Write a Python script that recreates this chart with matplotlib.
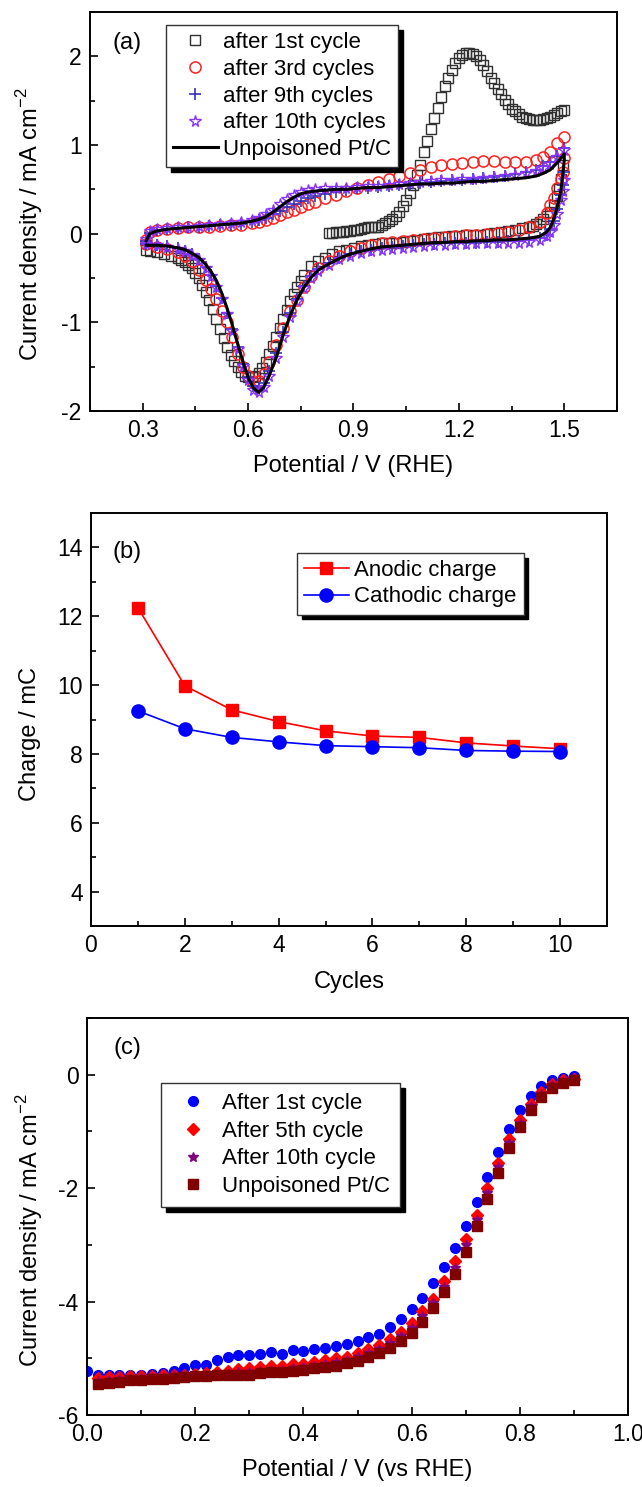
import numpy as np
import matplotlib
matplotlib.use("Agg")
import matplotlib.pyplot as plt
from matplotlib.ticker import MultipleLocator, FormatStrFormatter

plt.rcParams["font.family"] = ["Liberation Sans", "DejaVu Sans"]
plt.rcParams["axes.unicode_minus"] = False

# ==============================
# (a) CO-stripping CVs
# ==============================
# anodic sweep potentials (V)
E_up = [0.31, 0.32, 0.34, 0.37, 0.40, 0.43, 0.46, 0.49, 0.52, 0.55, 0.58, 0.61, 0.63,
        0.65, 0.67, 0.69, 0.71, 0.73, 0.75, 0.77, 0.79, 0.82, 0.85, 0.88, 0.91, 0.94,
        0.97, 1.00, 1.03, 1.06, 1.09, 1.12, 1.15, 1.18, 1.21, 1.24, 1.27, 1.30, 1.33,
        1.36, 1.39, 1.42, 1.44, 1.46, 1.48, 1.50]
# cathodic sweep potentials (V)
E_dn = [1.50, 1.495, 1.49, 1.48, 1.47, 1.46, 1.45, 1.43, 1.40, 1.37, 1.34, 1.31, 1.28,
        1.25, 1.22, 1.19, 1.16, 1.13, 1.10, 1.07, 1.04, 1.01, 0.98, 0.95, 0.92, 0.89,
        0.86, 0.83, 0.80, 0.78, 0.76, 0.74, 0.72, 0.70, 0.68, 0.66, 0.645, 0.63, 0.615,
        0.60, 0.585, 0.57, 0.555, 0.54, 0.525, 0.51, 0.495, 0.48, 0.46, 0.44, 0.42,
        0.40, 0.37, 0.34, 0.31]

# Unpoisoned Pt/C (line)
ref_up = [-0.08, 0.00, 0.03, 0.05, 0.06, 0.07, 0.08, 0.09, 0.10, 0.11, 0.12, 0.14, 0.16,
          0.19, 0.24, 0.30, 0.36, 0.41, 0.45, 0.47, 0.48, 0.49, 0.50, 0.50, 0.51, 0.52,
          0.52, 0.53, 0.54, 0.55, 0.56, 0.56, 0.57, 0.57, 0.58, 0.59, 0.59, 0.60, 0.61,
          0.62, 0.63, 0.65, 0.68, 0.72, 0.80, 0.90]
ref_dn = [0.83, 0.65, 0.48, 0.30, 0.16, 0.07, 0.02, -0.03, -0.05, -0.06, -0.07, -0.07,
          -0.08, -0.08, -0.09, -0.09, -0.10, -0.10, -0.11, -0.12, -0.13, -0.14, -0.15,
          -0.17, -0.20, -0.23, -0.28, -0.34, -0.41, -0.49, -0.60, -0.74, -0.92, -1.14,
          -1.40, -1.60, -1.73, -1.79, -1.74, -1.62, -1.44, -1.24, -1.03, -0.84, -0.67,
          -0.53, -0.43, -0.35, -0.27, -0.22, -0.18, -0.16, -0.14, -0.13, -0.13]

# after 3rd cycles
c3_up = [-0.07, 0.02, 0.04, 0.05, 0.06, 0.07, 0.07, 0.08, 0.09, 0.10, 0.10, 0.12, 0.13,
         0.15, 0.18, 0.21, 0.24, 0.27, 0.30, 0.33, 0.36, 0.40, 0.44, 0.48, 0.51, 0.55,
         0.58, 0.62, 0.65, 0.68, 0.72, 0.75, 0.77, 0.79, 0.80, 0.81, 0.82, 0.82, 0.81,
         0.81, 0.81, 0.83, 0.87, 0.92, 1.02, 1.09]
c3_dn = [0.85, 0.70, 0.62, 0.52, 0.40, 0.32, 0.23, 0.13, 0.07, 0.04, 0.02, 0.01, 0.00,
         -0.01, -0.02, -0.03, -0.04, -0.05, -0.06, -0.07, -0.08, -0.09, -0.11, -0.13,
         -0.16, -0.20, -0.25, -0.31, -0.39, -0.48, -0.60, -0.75, -0.87, -1.06, -1.26,
         -1.45, -1.58, -1.66, -1.67, -1.61, -1.50, -1.36, -1.17, -1.00, -0.87, -0.74,
         -0.62, -0.52, -0.41, -0.31, -0.25, -0.21, -0.17, -0.15, -0.12]

# after 9th cycles
c9_up = [-0.08, 0.01, 0.04, 0.05, 0.06, 0.07, 0.08, 0.09, 0.10, 0.10, 0.11, 0.13, 0.15,
         0.18, 0.22, 0.26, 0.30, 0.34, 0.37, 0.40, 0.42, 0.45, 0.47, 0.49, 0.51, 0.52,
         0.53, 0.54, 0.55, 0.56, 0.57, 0.58, 0.59, 0.60, 0.61, 0.62, 0.63, 0.64, 0.65,
         0.67, 0.69, 0.72, 0.76, 0.81, 0.88, 0.97]
c9_dn = [0.70, 0.55, 0.44, 0.28, 0.14, 0.05, -0.01, -0.05, -0.07, -0.08, -0.08, -0.09,
         -0.09, -0.10, -0.10, -0.11, -0.11, -0.12, -0.12, -0.13, -0.14, -0.15, -0.16,
         -0.18, -0.20, -0.23, -0.27, -0.33, -0.40, -0.48, -0.59, -0.74, -0.90, -1.11,
         -1.35, -1.55, -1.68, -1.74, -1.72, -1.62, -1.47, -1.28, -1.08, -0.90, -0.73,
         -0.59, -0.47, -0.38, -0.29, -0.23, -0.19, -0.16, -0.14, -0.13, -0.12]

# after 10th cycles
c10_up = [-0.06, 0.03, 0.05, 0.06, 0.07, 0.08, 0.09, 0.10, 0.11, 0.12, 0.13, 0.15, 0.18,
          0.22, 0.27, 0.33, 0.39, 0.44, 0.47, 0.49, 0.50, 0.51, 0.52, 0.52, 0.53, 0.54,
          0.54, 0.55, 0.56, 0.57, 0.58, 0.59, 0.60, 0.61, 0.62, 0.62, 0.63, 0.64, 0.65,
          0.66, 0.68, 0.71, 0.74, 0.79, 0.86, 0.94]
c10_dn = [0.60, 0.48, 0.38, 0.22, 0.10, 0.02, -0.03, -0.07, -0.09, -0.10, -0.10, -0.11,
          -0.11, -0.11, -0.12, -0.12, -0.13, -0.13, -0.14, -0.15, -0.16, -0.17, -0.18,
          -0.20, -0.22, -0.25, -0.29, -0.35, -0.42, -0.50, -0.61, -0.76, -0.94, -1.16,
          -1.40, -1.60, -1.73, -1.79, -1.76, -1.65, -1.49, -1.30, -1.10, -0.91, -0.74,
          -0.60, -0.48, -0.39, -0.30, -0.24, -0.20, -0.17, -0.15, -0.13, -0.12]

# after 1st cycle (CO stripping)
E1_up = [0.83, 0.84, 0.85, 0.86, 0.87, 0.88, 0.89, 0.90, 0.91, 0.92, 0.93, 0.94, 0.95,
         0.96, 0.97, 0.98, 0.99, 1.00, 1.01, 1.02, 1.03, 1.04, 1.05, 1.06, 1.07, 1.08,
         1.09, 1.10, 1.11, 1.12, 1.13, 1.14, 1.15, 1.16, 1.17, 1.18, 1.19, 1.20, 1.21,
         1.22, 1.23, 1.24, 1.25, 1.26, 1.27, 1.28, 1.29, 1.30, 1.31, 1.32, 1.33, 1.34,
         1.35, 1.36, 1.37, 1.38, 1.39, 1.40, 1.41, 1.42, 1.43, 1.44, 1.45, 1.46, 1.47,
         1.48, 1.49, 1.50]
c1_up = [0.01, 0.01, 0.02, 0.02, 0.02, 0.03, 0.03, 0.04, 0.04, 0.05, 0.06, 0.07, 0.07,
         0.08, 0.08, 0.10, 0.12, 0.14, 0.17, 0.20, 0.25, 0.31, 0.38, 0.46, 0.55, 0.66,
         0.78, 0.92, 1.05, 1.18, 1.30, 1.42, 1.54, 1.66, 1.76, 1.85, 1.93, 1.98, 2.02,
         2.04, 2.04, 2.03, 2.00, 1.96, 1.90, 1.83, 1.76, 1.70, 1.63, 1.57, 1.51, 1.46,
         1.41, 1.38, 1.35, 1.32, 1.30, 1.29, 1.28, 1.28, 1.28, 1.29, 1.30, 1.32, 1.34,
         1.36, 1.38, 1.40]
E1_dn = [1.495, 1.49, 1.485, 1.48, 1.47, 1.46, 1.45, 1.44, 1.43, 1.42, 1.41, 1.40, 1.38,
         1.36, 1.34, 1.32, 1.30, 1.28, 1.26, 1.24, 1.22, 1.20, 1.18, 1.16, 1.14, 1.12,
         1.10, 1.08, 1.06, 1.04, 1.02, 1.00, 0.98, 0.96, 0.94, 0.92, 0.90, 0.88, 0.86,
         0.84, 0.82, 0.80, 0.78, 0.76, 0.75, 0.74, 0.73, 0.72, 0.71, 0.70, 0.69, 0.68,
         0.67, 0.66, 0.65, 0.64, 0.63, 0.62, 0.61, 0.60, 0.59, 0.58, 0.57, 0.56, 0.55,
         0.54, 0.53, 0.52, 0.51, 0.50, 0.49, 0.48, 0.47, 0.46, 0.45, 0.44, 0.43, 0.42,
         0.41, 0.40, 0.38, 0.36, 0.34, 0.32, 0.31]
c1_dn = [0.78, 0.62, 0.50, 0.42, 0.32, 0.25, 0.20, 0.16, 0.13, 0.11, 0.09, 0.08, 0.06,
         0.04, 0.03, 0.02, 0.01, 0.00, -0.01, -0.01, -0.02, -0.03, -0.03, -0.04, -0.04,
         -0.05, -0.06, -0.07, -0.08, -0.09, -0.10, -0.10, -0.11, -0.12, -0.13, -0.14,
         -0.16, -0.18, -0.20, -0.23, -0.27, -0.31, -0.37, -0.47, -0.53, -0.60, -0.68,
         -0.76, -0.86, -0.96, -1.06, -1.16, -1.27, -1.36, -1.45, -1.52, -1.57, -1.60,
         -1.62, -1.62, -1.60, -1.56, -1.50, -1.44, -1.37, -1.28, -1.18, -1.07, -0.96,
         -0.85, -0.75, -0.66, -0.58, -0.50, -0.44, -0.39, -0.35, -0.32, -0.30, -0.28,
         -0.25, -0.23, -0.21, -0.19, -0.18]

# ==============================
# (b) charge vs cycles
# ==============================
cycles = [1, 2, 3, 4, 5, 6, 7, 8, 9, 10]
anodic = [12.25, 9.98, 9.28, 8.94, 8.67, 8.52, 8.48, 8.32, 8.23, 8.15]
cathodic = [9.25, 8.73, 8.48, 8.35, 8.24, 8.21, 8.18, 8.10, 8.08, 8.07]

# ==============================
# (c) ORR polarisation curves
# ==============================
orr_E = [0.00, 0.02, 0.04, 0.06, 0.08, 0.10, 0.12, 0.14, 0.16, 0.18, 0.20, 0.22, 0.24,
         0.26, 0.28, 0.30, 0.32, 0.34, 0.36, 0.38, 0.40, 0.42, 0.44, 0.46, 0.48, 0.50,
         0.52, 0.54, 0.56, 0.58, 0.60, 0.62, 0.64, 0.66, 0.68, 0.70, 0.72, 0.74, 0.76,
         0.78, 0.80, 0.82, 0.84, 0.86, 0.88, 0.90]
orr_1st = [-5.22, -5.30, -5.29, -5.29, -5.29, -5.29, -5.27, -5.26, -5.23, -5.18, -5.12,
           -5.12, -5.03, -4.98, -4.95, -4.95, -4.92, -4.89, -4.92, -4.85, -4.87, -4.84,
           -4.82, -4.78, -4.74, -4.70, -4.63, -4.57, -4.44, -4.31, -4.13, -3.93, -3.68,
           -3.39, -3.06, -2.67, -2.25, -1.81, -1.36, -0.96, -0.63, -0.37, -0.20, -0.10,
           -0.05, -0.03]
orr_5th = [-5.35, -5.33, -5.33, -5.32, -5.32, -5.31, -5.30, -5.30, -5.29, -5.27, -5.26,
           -5.25, -5.23, -5.19, -5.18, -5.16, -5.13, -5.13, -5.10, -5.10, -5.07, -5.03,
           -5.00, -4.97, -4.91, -4.84, -4.76, -4.66, -4.53, -4.37, -4.16, -3.95, -3.64,
           -3.29, -2.89, -2.47, -2.00, -1.55, -1.13, -0.79, -0.51, -0.30, -0.17, -0.10,
           -0.07]
orr_10th = [-5.40, -5.38, -5.37, -5.36, -5.35, -5.34, -5.33, -5.32, -5.31, -5.30, -5.29,
            -5.28, -5.27, -5.25, -5.24, -5.22, -5.20, -5.20, -5.17, -5.16, -5.13, -5.10,
            -5.07, -5.03, -4.97, -4.90, -4.83, -4.73, -4.61, -4.46, -4.26, -4.03, -3.74,
            -3.40, -3.00, -2.57, -2.08, -1.62, -1.20, -0.85, -0.56, -0.34, -0.19, -0.12,
            -0.08]
orr_ref = [-5.45, -5.43, -5.41, -5.39, -5.38, -5.37, -5.36, -5.35, -5.33, -5.32, -5.32,
           -5.30, -5.30, -5.29, -5.29, -5.26, -5.25, -5.25, -5.23, -5.20, -5.18, -5.16,
           -5.13, -5.09, -5.04, -4.98, -4.91, -4.82, -4.70, -4.56, -4.36, -4.12, -3.84,
           -3.51, -3.12, -2.67, -2.19, -1.74, -1.29, -0.92, -0.63, -0.39, -0.23, -0.14,
           -0.09]

FS = 16.5      # tick labels
FL = 17        # axis titles
FLEG = 16      # legends
W, H = 642, 1487
fig = plt.figure(figsize=(W / 100, H / 100), dpi=100)


def px_axes(left, top, right, bottom):
    return fig.add_axes([left / W, 1 - bottom / H, (right - left) / W, (bottom - top) / H])


def style(ax):
    for s in ax.spines.values():
        s.set_linewidth(1.4)
    ax.tick_params(which="both", direction="in", top=False, right=False,
                   labelsize=FS, width=1.2, pad=6)
    ax.tick_params(which="major", length=6)
    ax.tick_params(which="minor", length=3.5)


def labels(ax, xl, yl, left, right, top, bottom, xl_y, yl_x, yl_y):
    # place axis titles by their centres (pixel positions)
    ax.set_xlabel(xl, fontsize=FL)
    ax.set_ylabel(yl, fontsize=FL)
    ax.xaxis.label.set_va("center")
    ax.yaxis.label.set_va("center")
    ax.xaxis.set_label_coords(0.5, (bottom - xl_y) / (bottom - top))
    ax.yaxis.set_label_coords((yl_x - left) / (right - left),
                              (bottom - yl_y) / (bottom - top))


def legend(ax, x, y, **kw):
    leg = ax.legend(loc="upper left", bbox_to_anchor=(x / W, 1 - y / H),
                    bbox_transform=fig.transFigure, fontsize=FLEG,
                    fancybox=False, framealpha=1, edgecolor="#333333",
                    borderaxespad=0, numpoints=1,
                    shadow={"ox": 3.5, "oy": -3.5, "color": "black", "alpha": 1},
                    **kw)
    leg.get_frame().set_linewidth(1.0)
    return leg


# ---------- (a) ----------
ax1 = px_axes(90, 12, 617, 411)
ax1.plot(E1_up + E1_dn, c1_up + c1_dn, ls="none", marker="s", ms=6.8, mfc="none",
         mec="#303030", mew=1.0, label="after 1st cycle")
ax1.plot(E_up + E_dn, c3_up + c3_dn, ls="none", marker="o", ms=8, mfc="none",
         mec="#ff2020", mew=1.1, label="after 3rd cycles")
ax1.plot(E_up + E_dn, c9_up + c9_dn, ls="none", marker="+", ms=8.5, mec="#3333bb",
         mew=1.2, label="after 9th cycles")
ax1.plot(E_up + E_dn, c10_up + c10_dn, ls="none", marker="*", ms=8.5, mfc="none",
         mec="#8833ff", mew=1.0, label="after 10th cycles")
ax1.plot(E_up + E_dn, ref_up + ref_dn, color="black", lw=2.2, label="Unpoisoned Pt/C")
ax1.set_xlim(0.15, 1.65)
ax1.set_ylim(-2, 2.5)
ax1.xaxis.set_major_locator(MultipleLocator(0.3))
ax1.xaxis.set_minor_locator(MultipleLocator(0.15))
ax1.xaxis.set_major_formatter(FormatStrFormatter("%.1f"))
ax1.yaxis.set_major_locator(MultipleLocator(1))
ax1.yaxis.set_minor_locator(MultipleLocator(0.5))
style(ax1)
labels(ax1, "Potential / V (RHE)", "Current density / mA cm$^{\\mathregular{-2}}$",
       90, 617, 12, 411, 466, 30, 224)
legend(ax1, 166, 25, handlelength=2.0, handletextpad=0.25, labelspacing=0.26,
       borderpad=0.32)
fig.text(127 / W, 1 - 43 / H, "(a)", fontsize=FL, ha="center", va="center")

# ---------- (b) ----------
ax2 = px_axes(91, 513, 607, 926)
ax2.plot(cycles, anodic, color="#ff0000", lw=1.2, marker="s", ms=9,
         label="Anodic charge")
ax2.plot(cycles, cathodic, color="#0000ff", lw=1.2, marker="o", ms=9.5,
         label="Cathodic charge")
ax2.set_xlim(0, 11)
ax2.set_ylim(3, 15)
ax2.xaxis.set_major_locator(MultipleLocator(2))
ax2.xaxis.set_minor_locator(MultipleLocator(1))
ax2.yaxis.set_major_locator(MultipleLocator(2))
ax2.yaxis.set_minor_locator(MultipleLocator(1))
style(ax2)
labels(ax2, "Cycles", "Charge / mC", 91, 607, 513, 926, 982, 30, 734)
legend(ax2, 297, 553, handlelength=2.0, handletextpad=0.25, labelspacing=0.24,
       borderpad=0.32)
fig.text(127 / W, 1 - 552 / H, "(b)", fontsize=FL, ha="center", va="center")

# ---------- (c) ----------
ax3 = px_axes(87, 1018, 628, 1415)
ax3.plot(orr_E, orr_1st, ls="none", marker="o", ms=7, color="#0000ff",
         label="After 1st cycle")
ax3.plot(orr_E[1:], orr_5th, ls="none", marker="D", ms=6, color="#ff0000",
         label="After 5th cycle")
ax3.plot(orr_E[1:], orr_10th, ls="none", marker="*", ms=7.5, color="#800080",
         label="After 10th cycle")
ax3.plot(orr_E[1:], orr_ref, ls="none", marker="s", ms=6.5, color="#800000",
         label="Unpoisoned Pt/C")
ax3.set_xlim(0, 1.0)
ax3.set_ylim(-6, 1)
ax3.xaxis.set_major_locator(MultipleLocator(0.2))
ax3.xaxis.set_minor_locator(MultipleLocator(0.1))
ax3.xaxis.set_major_formatter(FormatStrFormatter("%.1f"))
ax3.yaxis.set_major_locator(MultipleLocator(2))
ax3.yaxis.set_minor_locator(MultipleLocator(1))
style(ax3)
labels(ax3, "Potential / V (vs RHE)", "Current density / mA cm$^{\\mathregular{-2}}$",
       87, 628, 1018, 1415, 1470, 30, 1230)
legend(ax3, 161, 1083, handlelength=2.0, handletextpad=0.3, labelspacing=0.3,
       borderpad=0.45)
fig.text(127 / W, 1 - 1048 / H, "(c)", fontsize=FL, ha="center", va="center")

fig.savefig("out.png", dpi=100)
